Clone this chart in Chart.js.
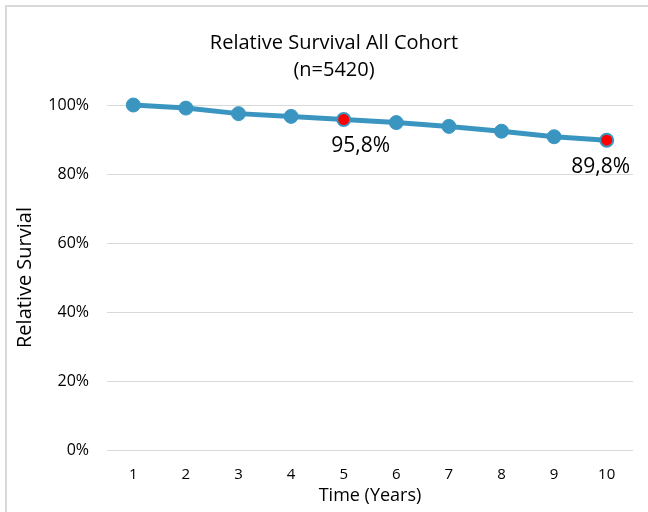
<!DOCTYPE html>
<html>
<head>
<meta charset="utf-8">
<script src="https://cdn.jsdelivr.net/npm/chart.js@4"></script>
<style>
  html, body { margin: 0; padding: 0; background: #fff; }
  #wrap { position: relative; width: 648px; height: 512px; overflow: hidden; }
  #frame { position: absolute; left: 5px; top: 5px; width: 700px; height: 600px;
           border-left: 2px solid #d9d9d9; border-top: 2px solid #d9d9d9; box-sizing: border-box; }
  canvas { position: absolute; left: 0; top: 0; }
</style>
</head>
<body>
<div id="wrap">
  <div id="frame"></div>
  <canvas id="survivalChart" width="648" height="512"></canvas>
</div>
<script>
// time points and relative survival (%)
const years = ['1', '2', '3', '4', '5', '6', '7', '8', '9', '10'];
const survival = [100, 99.1, 97.5, 96.7, 95.8, 94.9, 93.8, 92.4, 90.8, 89.8];
// which points get a red marker and a value label
const highlighted = [4, 9];
const yTicks = [0, 20, 40, 60, 80, 100];

const titleLines = ['Relative Survival All Cohort', '(n=5420)'];
const lineColor = 'rgb(58,150,192)';
const fontFamily = '"Open Sans", sans-serif';

// title text and value labels under the highlighted points
const textPlugin = {
  id: 'texts',
  afterDatasetsDraw(chart, args, opts) {
    const ctx = chart.ctx;
    ctx.save();
    ctx.fillStyle = '#000';
    ctx.textAlign = 'center';
    ctx.textBaseline = 'middle';
    ctx.font = '20px ' + fontFamily;
    ctx.fillText(titleLines[0], 334, 43);
    ctx.fillText(titleLines[1], 334, 70);

    const meta = chart.getDatasetMeta(0);
    ctx.font = '21px ' + fontFamily;
    highlighted.forEach((idx, k) => {
      const pt = meta.data[idx];
      const txt = survival[idx].toFixed(1).replace('.', ',') + '%';
      ctx.fillText(txt, pt.x + opts.dx[k], pt.y + 27);
    });
    ctx.restore();
  }
};

new Chart(document.getElementById('survivalChart'), {
  type: 'line',
  data: {
    labels: years,
    datasets: [{
      data: survival,
      clip: false,
      borderColor: lineColor,
      borderWidth: 5,
      tension: 0,
      pointRadius: survival.map((v, i) => highlighted.includes(i) ? 6.5 : 7),
      pointBorderWidth: survival.map((v, i) => highlighted.includes(i) ? 2 : 1),
      pointBackgroundColor: survival.map((v, i) => highlighted.includes(i) ? '#ff0000' : lineColor),
      pointBorderColor: lineColor
    }]
  },
  options: {
    responsive: false,
    animation: false,
    layout: { padding: { left: 0, right: 15, top: 105, bottom: 0 } },
    plugins: {
      legend: { display: false },
      title: { display: false },
      tooltip: { enabled: false },
      texts: { dx: [17, -6] }
    },
    scales: {
      x: {
        offset: true,
        grid: { display: false, drawTicks: false },
        border: { display: false },
        ticks: { color: '#000', font: { family: fontFamily, size: 15 }, padding: 16 },
        title: {
          display: true, text: 'Time (Years)', color: '#000',
          font: { family: fontFamily, size: 18 }, padding: { top: 0, bottom: 5 }
        },
        afterFit: s => { s.height = 62; }
      },
      y: {
        min: 0,
        max: 100,
        afterBuildTicks: s => { s.ticks = yTicks.map(v => ({ value: v })); },
        grid: { color: '#d9d9d9', lineWidth: 1, drawTicks: false },
        border: { display: false },
        ticks: {
          color: '#000', font: { family: fontFamily, size: 16 }, padding: 18,
          callback: v => v + '%'
        },
        title: {
          display: true, text: 'Relative Survial', color: '#000',
          font: { family: fontFamily, size: 20 }, padding: { top: 13, bottom: 0 }
        },
        afterFit: s => { s.width = 107; }
      }
    }
  },
  plugins: [textPlugin]
});
</script>
</body>
</html>
